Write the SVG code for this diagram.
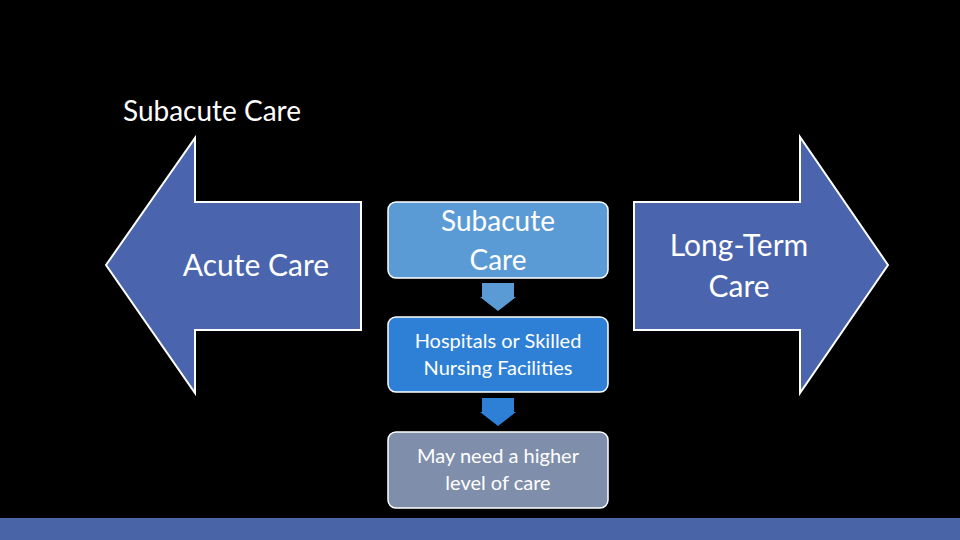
<svg xmlns="http://www.w3.org/2000/svg" width="960" height="540" viewBox="0 0 960 540">
<style>
text{font-family:Lato,"Open Sans","Liberation Sans",sans-serif;fill:#fff;text-anchor:middle}
.big{stroke:#fff;stroke-width:2;fill:#4a65ad}
.box{stroke:#fff;stroke-width:1.5}
</style>
<rect width="960" height="540" fill="#000"/>
<text x="212" y="121" font-size="28">Subacute Care</text>
<g id="acute"><polygon class="big" points="106,265 195,138 195,202 361,202 361,330 195,330 195,393"/>
<text x="256" y="276" font-size="30">Acute Care</text></g>
<g id="longterm"><polygon class="big" points="888,265 800,137 800,202 634,202 634,330 800,330 800,393"/>
<text x="739" y="256" font-size="30">Long-Term</text><text x="739" y="297" font-size="30">Care</text></g>
<g id="subacute"><rect class="box" x="388" y="202" width="220" height="76" rx="8" fill="#5b9bd5"/>
<text x="498" y="231" font-size="28">Subacute</text><text x="498" y="270" font-size="28">Care</text></g>
<g id="hospitals"><rect class="box" x="388" y="317" width="220" height="75" rx="8" fill="#2e7fd6"/>
<text x="498" y="348" font-size="20">Hospitals or Skilled</text><text x="498" y="375" font-size="20">Nursing Facilities</text></g>
<g id="higher"><rect class="box" x="388" y="432" width="220" height="76" rx="8" fill="#7f8fab"/>
<text x="498" y="463" font-size="20">May need a  higher</text><text x="498" y="490" font-size="20">level of care</text></g>
<g id="connectors">
<polygon points="482,283 514,283 514,297 516,297 498,311 480,297 482,297" fill="#5b9bd5"/>
<polygon points="482,398 514,398 514,412 516,412 498,426 480,412 482,412" fill="#2e7fd6"/>
</g>
<rect y="518" width="960" height="22" fill="#4a64a8"/>
</svg>
